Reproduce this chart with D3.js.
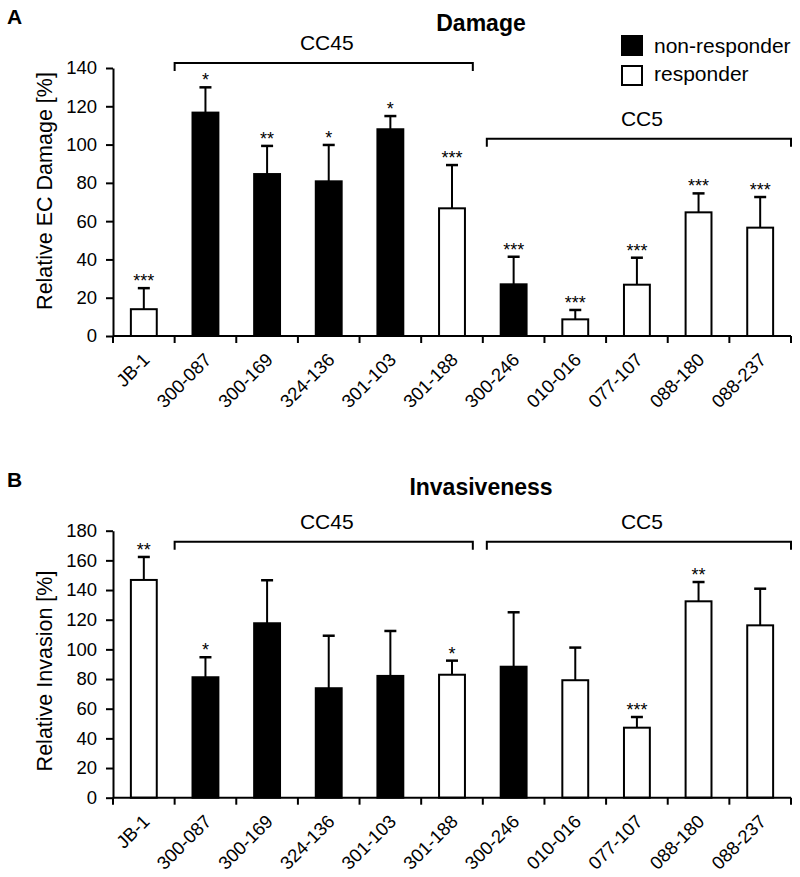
<!DOCTYPE html>
<html>
<head>
<meta charset="utf-8">
<script src="https://cdn.jsdelivr.net/npm/d3@7"></script>
<style>
  body { margin: 0; background: #fff; }
  svg { display: block; font-family: Arial, "Liberation Sans", Helvetica, sans-serif; }
</style>
</head>
<body>
<svg id="chart" width="800" height="877"></svg>
<script>
// ---------- data ----------
const strains = ["JB-1","300-087","300-169","324-136","301-103","301-188","300-246","010-016","077-107","088-180","088-237"];
const phenotype = ["responder","non-responder","non-responder","non-responder","non-responder","responder","non-responder","responder","responder","responder","responder"];

const damageMean = [14, 116.7, 84.6, 80.8, 108, 66.7, 27, 8.7, 26.8, 64.6, 56.6];
const damageSD   = [11, 13.2, 14.7, 19, 6.9, 22.6, 14.4, 4.9, 14.1, 9.9, 16];
const damageSig  = ["***","*","**","*","*","***","***","***","***","***","***"];
const damageTicks = [0,20,40,60,80,100,120,140];

const invasionMean = [146.8, 81.2, 117.6, 73.8, 82.1, 82.9, 88.3, 79.2, 47.2, 132.4, 116.2];
const invasionSD   = [15.5, 13.5, 29, 35.4, 30.3, 9.5, 36.7, 22, 7.2, 13, 24.7];
const invasionSig  = ["**","*","","","","*","","","***","**",""];
const invasionTicks = [0,20,40,60,80,100,120,140,160,180];

const ccNames = ["CC45","CC5"];
const ccFirst = ["300-087","300-246"];
const ccLast  = ["301-188","088-237"];

const legendLabels = ["non-responder","responder"];

// ---------- drawing ----------
const svg = d3.select("#chart");
const fillFor = p => p === "non-responder" ? "#000" : "#fff";

function drawPanel(opt) {
  const g = svg.append("g");
  const x = d3.scaleBand().domain(strains).range([113, 791]).padding(0);
  const y = d3.scaleLinear().domain([0, opt.yMax]).range([opt.y0, opt.y1]);
  const step = x.step();
  const bw = step * 0.42;

  // panel letter and title
  g.append("text").attr("x", 7).attr("y", opt.letterY).attr("font-size", 21).attr("font-weight", "bold").text(opt.letter);
  g.append("text").attr("x", 481).attr("y", opt.titleY).attr("text-anchor", "middle")
    .attr("font-size", 23).attr("font-weight", "bold").text(opt.title);

  // y axis
  const ya = g.append("g").attr("transform", `translate(${x.range()[0]},0)`)
    .call(d3.axisLeft(y).tickValues(opt.ticks).tickSize(7).tickSizeOuter(0).tickPadding(9));
  ya.select(".domain").attr("stroke", "#000").attr("stroke-width", 2);
  ya.selectAll(".tick line").attr("stroke", "#000").attr("stroke-width", 2);
  ya.selectAll(".tick text").attr("font-size", 18.5).attr("fill", "#000").attr("font-family", "Arial, 'Liberation Sans', sans-serif");

  // y label
  g.append("text").attr("transform", `translate(52,${opt.labelY}) rotate(-90)`)
    .attr("text-anchor", "middle").attr("font-size", 21.5).text(opt.yLabel);

  // bars
  const idx = d3.range(strains.length);
  g.selectAll("rect.bar").data(idx).join("rect").attr("class", "bar")
    .attr("x", i => x(strains[i]) + (step - bw) / 2)
    .attr("width", bw)
    .attr("y", i => y(opt.mean[i]))
    .attr("height", i => y(0) - y(opt.mean[i]))
    .attr("fill", i => fillFor(phenotype[i]))
    .attr("stroke", "#000").attr("stroke-width", 2);

  // error bars
  const cx = i => x(strains[i]) + step / 2;
  g.selectAll("line.err").data(idx).join("line").attr("class", "err")
    .attr("x1", cx).attr("x2", cx)
    .attr("y1", i => y(opt.mean[i])).attr("y2", i => y(opt.mean[i] + opt.sd[i]))
    .attr("stroke", "#000").attr("stroke-width", 2);
  g.selectAll("line.cap").data(idx).join("line").attr("class", "cap")
    .attr("x1", i => cx(i) - 6).attr("x2", i => cx(i) + 6)
    .attr("y1", i => y(opt.mean[i] + opt.sd[i])).attr("y2", i => y(opt.mean[i] + opt.sd[i]))
    .attr("stroke", "#000").attr("stroke-width", 2.5);

  // significance stars
  g.selectAll("text.sig").data(idx.filter(i => opt.sig[i])).join("text").attr("class", "sig")
    .attr("x", cx).attr("y", i => y(opt.mean[i] + opt.sd[i]) - 1)
    .attr("text-anchor", "middle").attr("font-size", 18).text(i => opt.sig[i]);

  // x axis
  const yBase = y(0);
  g.append("line").attr("x1", x.range()[0]).attr("x2", x.range()[1]).attr("y1", yBase).attr("y2", yBase)
    .attr("stroke", "#000").attr("stroke-width", 2);
  g.selectAll("line.xt").data(d3.range(strains.length + 1)).join("line").attr("class", "xt")
    .attr("x1", k => x.range()[0] + k * step).attr("x2", k => x.range()[0] + k * step)
    .attr("y1", yBase).attr("y2", yBase + 7)
    .attr("stroke", "#000").attr("stroke-width", 2);
  g.selectAll("text.xl").data(idx).join("text").attr("class", "xl")
    .attr("transform", i => `translate(${cx(i) + 7},${yBase + 25}) rotate(-45)`)
    .attr("text-anchor", "end").attr("font-size", 18.5).text(i => strains[i]);

  // clonal complex brackets
  ccNames.forEach((name, j) => {
    const xs = (j === 0 ? x(ccFirst[j]) : x(ccFirst[j]) + 4);
    const xe = (j === 0 ? x(ccLast[j]) + step - 10 : x(ccLast[j]) + step);
    const yb = y(opt.bracketVals[j]);
    g.append("path")
      .attr("d", `M${xs},${yb + 8}V${yb}H${xe}V${yb + 8}`)
      .attr("fill", "none").attr("stroke", "#000").attr("stroke-width", 2);
    g.append("text").attr("x", (xs + xe) / 2 + 3).attr("y", yb - 13)
      .attr("text-anchor", "middle").attr("font-size", 21).text(name);
  });
}

drawPanel({
  letter: "A", letterY: 24, title: "Damage", titleY: 31,
  yMax: 140, y0: 336, y1: 68, ticks: damageTicks,
  yLabel: "Relative EC Damage [%]", labelY: 191,
  mean: damageMean, sd: damageSD, sig: damageSig,
  bracketVals: [142.6, 103]
});

drawPanel({
  letter: "B", letterY: 487, title: "Invasiveness", titleY: 495,
  yMax: 180, y0: 797.7, y1: 530.7, ticks: invasionTicks,
  yLabel: "Relative Invasion [%]", labelY: 671,
  mean: invasionMean, sd: invasionSD, sig: invasionSig,
  bracketVals: [172.6, 172.6]
});

// legend
const leg = svg.append("g");
legendLabels.forEach((lab, j) => {
  leg.append("rect").attr("x", 622).attr("y", 36 + j * 30).attr("width", 20).attr("height", 19)
    .attr("fill", fillFor(lab)).attr("stroke", "#000").attr("stroke-width", 2);
  leg.append("text").attr("x", 654).attr("y", 53 + j * 28).attr("font-size", 21).text(lab);
});
</script>
</body>
</html>
